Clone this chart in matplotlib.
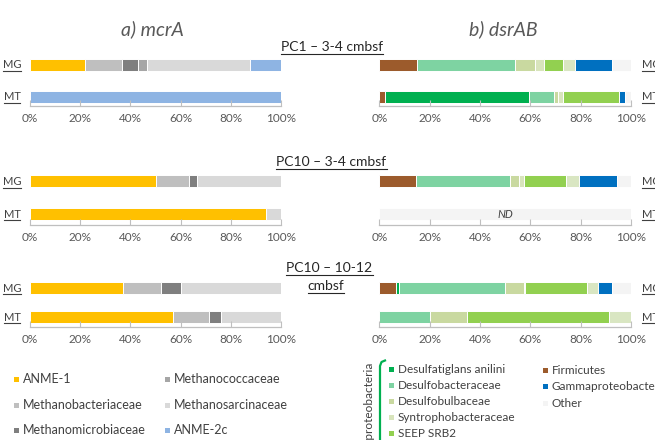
import matplotlib.pyplot as plt
from matplotlib.patches import Rectangle
from matplotlib.lines import Line2D
import numpy as np

plt.rcParams['font.family'] = ['Lato', 'DejaVu Sans']

# ---- data -------------------------------------------------------------
samples = ["MG", "MT"]
sections = ["PC1 \u2013 3-4 cmbsf", "PC10 \u2013 3-4 cmbsf", "PC10 \u2013 10-12"]

mcra_groups = ["ANME-1", "Methanobacteriaceae", "Methanomicrobiaceae",
               "Methanococcaceae", "Methanosarcinaceae", "ANME-2c"]
mcra_colors = ["#FFC000", "#BFBFBF", "#7F7F7F", "#A6A6A6", "#D9D9D9", "#8EB4E3"]
# rows: [MG, MT] per section, columns follow mcra_groups (%)
mcra_pc1 = [[22, 14.5, 6.5, 3.5, 41, 12.5],
            [0, 0, 0, 0, 0, 100]]
mcra_pc10_34 = [[50, 13.5, 3, 0, 33.5, 0],
                [94, 0, 0, 0, 6, 0]]
mcra_pc10_1012 = [[37, 15, 8, 0, 40, 0],
                  [57, 14.5, 4.5, 0, 24, 0]]

dsr_groups = ["Firmicutes", "Desulfatiglans anilini", "Desulfobacteraceae",
              "Desulfobulbaceae", "Syntrophobacteraceae", "SEEP SRB2",
              "Other Deltaproteobacteria", "Gammaproteobacteria", "Other"]
dsr_colors = ["#9C5B2C", "#00B050", "#7ED3A2", "#C9D9A0", "#D8E4BC",
              "#92D050", "#D9E6C2", "#0070C0", "#F4F4F4"]
dsr_pc1 = [[15, 0, 39, 8, 3.6, 7.5, 4.6, 14.6, 7.7],
           [2.3, 57.2, 9.9, 1.7, 1.7, 22.3, 0, 2.5, 2.4]]
dsr_pc10_34 = [[14.6, 0, 37.3, 3.6, 2.1, 16.6, 5.3, 15.1, 5.4],
               [0, 0, 0, 0, 0, 0, 0, 0, 100]]
dsr_pc10_1012 = [[6.8, 1.1, 41.9, 7.6, 0.5, 24.6, 4.5, 5.3, 7.7],
                 [0, 0, 20.1, 14.6, 0, 56.4, 8.9, 0, 0]]
not_detected = [(1, "MT")]  # (section index, sample) shown as ND in dsrAB

xticks = [0, 20, 40, 60, 80, 100]

# ---- layout (pixels) -------------------------------------------------
W, H = 655, 440
fig = plt.figure(figsize=(W / 100, H / 100), dpi=100)


def fx(x):
    return x / W


def fy(y):
    return 1 - y / H


# per row: MG centre, MT centre, axis line (px)
rows_px = [(65, 97, 106.5), (181.5, 214, 225.5), (288, 317, 327)]
panels_px = [(30, 281), (379.3, 631)]
bar_px = 12


def make_ax(px, row):
    x0, x1 = px
    mg, mt, base = row
    unit = mt - mg
    top = mg - 9
    ax = fig.add_axes([fx(x0), fy(base), fx(x1 - x0), (base - top) / H])
    ax.set_xlim(0, 100)
    ax.set_ylim(-(base - mt) / unit, 1 + (mg - top) / unit)
    for s in ["top", "left", "right"]:
        ax.spines[s].set_visible(False)
    ax.spines["bottom"].set_color("#BFBFBF")
    ax.spines["bottom"].set_linewidth(0.9)
    ax.set_yticks([])
    ax.set_xticks(xticks)
    ax.set_xticklabels([f"{t}%" for t in xticks])
    ax.tick_params(axis="x", direction="in", length=4, color="#BFBFBF",
                   labelsize=8.5, labelcolor="#595959", pad=5)
    ax.set_facecolor("none")
    return ax, bar_px / unit


def stack(ax, h, data, colors):
    data = np.array(data, dtype=float)
    ypos = [1, 0]
    for i in range(2):
        left = 0
        for v, c in zip(data[i], colors):
            if v > 0:
                ax.barh(ypos[i], v, left=left, height=h, color=c,
                        edgecolor="white", linewidth=0.7)
            left += v


mcra_all = [mcra_pc1, mcra_pc10_34, mcra_pc10_1012]
dsr_all = [dsr_pc1, dsr_pc10_34, dsr_pc10_1012]

for r, row in enumerate(rows_px):
    ax, h = make_ax(panels_px[0], row)
    stack(ax, h, mcra_all[r], mcra_colors)
    ax2, h2 = make_ax(panels_px[1], row)
    stack(ax2, h2, dsr_all[r], dsr_colors)
    for sec, smp in not_detected:
        if sec == r:
            ax2.text(50, 0 if smp == "MT" else 1, "ND", ha="center",
                     va="center", style="italic", fontsize=8,
                     color="#404040")

fig.canvas.draw()
renderer = fig.canvas.get_renderer()


def utext(x, y, s, size, color, ha="center"):
    t = fig.text(fx(x), fy(y), s, ha=ha, va="center", fontsize=size,
                 color=color)
    bb = t.get_window_extent(renderer)
    yl = bb.y0 - 1
    fig.add_artist(Line2D([bb.x0 / W, bb.x1 / W], [yl / H, yl / H],
                          color=color, lw=0.8))
    return t


# MG / MT labels (right-hand ones run off the edge, as in the source)
for row in rows_px:
    for y, lab in zip(row[:2], samples):
        utext(12, y, lab, 8, "#404040")
        utext(642, y, lab, 8, "#404040", ha="left")

# panel titles
fig.text(fx(152), fy(29), "a) mcrA", ha="center", va="center",
         fontsize=14, style="italic", color="#595959")
fig.text(fx(503), fy(29), "b) dsrAB", ha="center", va="center",
         fontsize=14, style="italic", color="#595959")

# section titles
utext(332, 47, sections[0], 10, "#262626")
utext(331.5, 162, sections[1], 10, "#262626")
utext(329.5, 268, sections[2], 10, "#262626")
utext(326, 286, "cmbsf", 10, "#262626")


# ---- legends ---------------------------------------------------------
def key(x, y, color, label, size):
    fig.add_artist(Rectangle((fx(x - 2.5), fy(y + 2.5)), 5 / W, 5 / H,
                             facecolor=color, edgecolor="none"))
    fig.text(fx(x + 7), fy(y), label, ha="left", va="center",
             fontsize=size, color="#404040")


legend_slots = {0: (16, 379), 1: (16, 405), 2: (16, 430),
                3: (167, 379), 4: (167, 405), 5: (167, 430)}
for i, g in enumerate(mcra_groups):
    x, y = legend_slots[i]
    key(x, y, mcra_colors[i], g, 9)

dsr_slots = {1: (391, 369), 2: (391, 385), 3: (391, 401), 4: (391, 417),
             5: (391, 433), 0: (545, 370), 7: (545, 386), 8: (545, 403)}
for i, (x, y) in dsr_slots.items():
    key(x, y, dsr_colors[i], dsr_groups[i], 8.5)

# Deltaproteobacteria bracket
fig.add_artist(Line2D([fx(380), fx(380), fx(381.5), fx(385)],
                      [fy(445), fy(366), fy(362), fy(360.5)],
                      color="#00B050", lw=1.6))
fig.text(fx(368), fy(361), "Deltaproteobacteria", rotation=90, ha="center",
         va="top", fontsize=8.5, color="#404040")

fig.savefig("out.png", dpi=100)
